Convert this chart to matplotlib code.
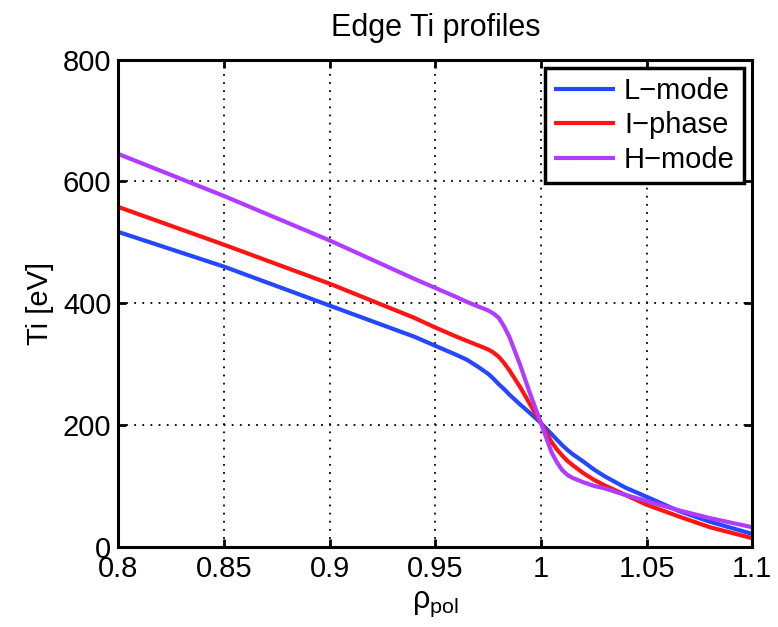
import numpy as np
import matplotlib
matplotlib.use("Agg")
import matplotlib.pyplot as plt

plt.rcParams["font.family"] = ["Liberation Sans", "DejaVu Sans"]
plt.rcParams["mathtext.fontset"] = "custom"
plt.rcParams["mathtext.rm"] = "Liberation Sans"
plt.rcParams["mathtext.it"] = "Liberation Sans:italic"

# rho_pol sample points
rho = [0.80, 0.85, 0.90, 0.94, 0.95, 0.96, 0.965, 0.97, 0.975, 0.9775, 0.98,
       0.9825, 0.985, 0.99, 0.995, 1.0, 1.005, 1.0075, 1.01, 1.0125, 1.015,
       1.02, 1.025, 1.03, 1.04, 1.05, 1.065, 1.08, 1.1]

ti_lmode = [517, 460, 396, 345, 330, 315, 307, 296, 284, 276, 267,
            259, 250, 234, 219, 203, 185, 176, 167, 159, 152,
            140, 127, 116, 97, 82, 59, 41, 21]
ti_iphase = [558, 496, 432, 376, 360, 345, 338, 331, 324, 319, 312,
             302, 290, 263, 233, 203, 172, 160, 150, 141, 134,
             121, 110, 101, 85, 69, 50, 32, 14]
ti_hmode = [645, 576, 503, 440, 425, 410, 402, 395, 388, 383, 376,
            362, 345, 300, 250, 203, 155, 139, 126, 118, 113,
            106, 100, 96, 85, 75, 60, 47, 32]

series = [("L\u2212mode", ti_lmode, "#2447ff"),
          ("I\u2212phase", ti_iphase, "#ff1414"),
          ("H\u2212mode", ti_hmode, "#b03cff")]

xticks = [0.8, 0.85, 0.9, 0.95, 1, 1.05, 1.1]
xticklabels = ["0.8", "0.85", "0.9", "0.95", "1", "1.05", "1.1"]
yticks = [0, 200, 400, 600, 800]

fig = plt.figure(figsize=(7.78, 6.27), dpi=100)
ax = fig.add_axes([0.152, 0.128, 0.815, 0.777])

for label, vals, color in series:
    ax.plot(rho, vals, color=color, lw=3, label=label, solid_capstyle="butt")

ax.set_xlim(0.8, 1.1)
ax.set_ylim(0, 800)
ax.set_xticks(xticks)
ax.set_xticklabels(xticklabels)
ax.set_yticks(yticks)
ax.grid(True, color="black", ls=(0, (1, 3.5)), lw=1.3)
ax.tick_params(direction="in", length=6, width=2, labelsize=21,
               top=True, right=True)
ax.tick_params(axis="x", pad=6)
ax.tick_params(axis="y", pad=5)
for s in ax.spines.values():
    s.set_linewidth(2.2)

ax.set_title("Edge Ti profiles", fontsize=22, pad=17)
ax.set_xlabel("\u03c1$_{\\mathrm{pol}}$", fontsize=22, labelpad=4)
ax.set_ylabel("Ti [eV]", fontsize=21, labelpad=6)

leg = ax.legend(loc="upper right", fontsize=21, handlelength=2.1,
                handletextpad=0.3, labelspacing=0.22, borderpad=0.32,
                borderaxespad=0.28, fancybox=False, framealpha=1)
leg.get_frame().set_edgecolor("black")
leg.get_frame().set_linewidth(2.5)

fig.savefig("out.png", dpi=100)
